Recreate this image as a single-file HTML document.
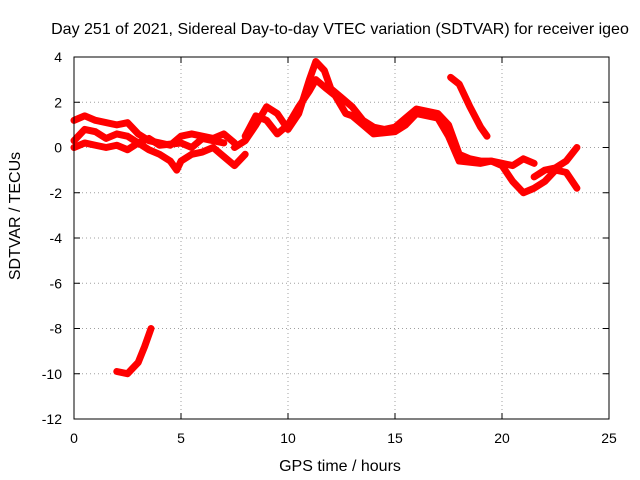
<!DOCTYPE html>
<html><head><meta charset="utf-8">
<style>
body{margin:0;background:#fff;}
svg{display:block;font-family:"Liberation Sans",sans-serif;}
</style></head>
<body>
<svg id="chart" width="640" height="480">
<rect width="640" height="480" fill="#fff"/>
<text x="340" y="34" font-size="16" text-anchor="middle">Day 251 of 2021, Sidereal Day-to-day VTEC variation (SDTVAR) for receiver igeo</text>
<text x="340" y="471" font-size="16" text-anchor="middle">GPS time / hours</text>
<text transform="translate(20,216) rotate(-90)" font-size="16" text-anchor="middle">SDTVAR / TECUs</text>
<g id="grid"></g><g id="ticks"></g><g id="series"></g>
<rect x="74" y="57" width="535" height="362" fill="none" stroke="#000" stroke-width="1"/>
</svg>
<script>
const xTicks=[0,5,10,15,20,25];
const yTicks=[4,2,0,-2,-4,-6,-8,-10,-12];
const s1x=[0,0.5,1,2,2.5,3,3.5,4,4.5,5,5.5,6,6.5,7,7.5];
const s1y=[1.2,1.4,1.2,1.0,1.1,0.6,0.3,0.2,0.1,0.5,0.6,0.5,0.4,0.6,0.2];
const s2x=[0,0.5,1,1.5,2,2.5,3,3.5,4,4.5,4.8,5,5.5,6,6.5,7,7.5,8];
const s2y=[0.3,0.8,0.7,0.4,0.6,0.5,0.2,-0.1,-0.3,-0.6,-1.0,-0.6,-0.3,-0.2,0.0,-0.4,-0.8,-0.3];
const s3x=[0,0.5,1,1.5,2,2.5,3,3.5,4,5,5.5,6,7];
const s3y=[0.0,0.2,0.1,0.0,0.1,-0.1,0.2,0.4,0.1,0.2,0.0,0.4,0.2];
const s4x=[7.5,8,8.5,9,9.5,10,10.5,11,11.3,11.7,12,12.5,13,13.5,14,14.5,15,15.5,16,16.5,17,17.5,18,18.5,19,19.5,20,20.5,21,21.5,22,22.5,23,23.5];
const s4y=[0.0,0.3,1.0,1.8,1.5,0.8,1.5,3.0,3.8,3.4,2.6,2.2,1.8,1.2,0.9,0.8,0.9,1.3,1.7,1.6,1.5,1.0,-0.3,-0.5,-0.6,-0.6,-0.8,-1.5,-2.0,-1.8,-1.5,-1.0,-1.1,-1.8];
const s5x=[8,8.5,9,9.5,10,10.5,11,11.3,11.8,12.2,12.7,13,13.5,14,15,15.5,16,16.5,17,17.5,18,19,19.5,20,20.5,21,21.5];
const s5y=[0.5,1.4,1.2,0.6,1.0,1.8,2.5,3.0,2.6,2.3,1.5,1.4,1.0,0.6,0.7,1.0,1.5,1.4,1.3,0.5,-0.6,-0.7,-0.6,-0.7,-0.8,-0.5,-0.7];
const s6x=[17.6,18,18.5,19,19.3];
const s6y=[3.1,2.8,1.8,0.9,0.5];
const s7x=[21.5,22,22.5,23,23.5];
const s7y=[-1.3,-1.0,-0.9,-0.6,0.0];
const s8x=[2,2.5,3,3.3,3.6];
const s8y=[-9.9,-10.0,-9.5,-8.8,-8.0];
const seriesX=[s1x,s2x,s3x,s4x,s5x,s6x,s7x,s8x];
const seriesY=[s1y,s2y,s3y,s4y,s5y,s6y,s7y,s8y];

const X0=74,X1=609,Y0=419,Y1=57;
const sx=v=>X0+(v-0)/(25-0)*(X1-X0);
const sy=v=>Y0-(v+12)/(4+12)*(Y0-Y1);
const NS="http://www.w3.org/2000/svg";
const grid=document.getElementById('grid'),ticks=document.getElementById('ticks'),ser=document.getElementById('series');
function mk(tag,attrs,parent){const e=document.createElementNS(NS,tag);for(const k in attrs)e.setAttribute(k,attrs[k]);parent.appendChild(e);return e;}
xTicks.forEach(t=>{
  const x=sx(t);
  if(t>0&&t<25){const g=mk('line',{x1:x,x2:x,y1:Y1,y2:Y0,stroke:'#a0a0a0','stroke-dasharray':'1,3'},grid);
  
  }
  const l=mk('text',{x:x,y:443,'font-size':14,'text-anchor':'middle'},ticks);l.textContent=t;
  
  
  mk('line',{x1:x,x2:x,y1:Y0,y2:Y0-6,stroke:'#000'},ticks);
  mk('line',{x1:x,x2:x,y1:Y1,y2:Y1+6,stroke:'#000'},ticks);
});
yTicks.forEach(t=>{
  const y=sy(t);
  if(t>-12&&t<4){const g=mk('line',{x1:X0,x2:X1,y1:y,y2:y,stroke:'#a0a0a0','stroke-dasharray':'1,3'},grid);
  
  }
  const l=mk('text',{x:62,y:y+5,'font-size':14,'text-anchor':'end'},ticks);l.textContent=t;
  
  
  mk('line',{x1:X0,x2:X0+6,y1:y,y2:y,stroke:'#000'},ticks);
  mk('line',{x1:X1,x2:X1-6,y1:y,y2:y,stroke:'#000'},ticks);
});
seriesX.forEach((xs,i)=>{
  const ys=seriesY[i];
  const pts=xs.map((v,j)=>sx(v)+','+sy(ys[j])).join(' ');
  const p=mk('polyline',{points:pts,fill:'none',stroke:'#ff0000','stroke-width':7,'stroke-linejoin':'round','stroke-linecap':'round'},ser);
  
  
});
</script>
</body></html>
